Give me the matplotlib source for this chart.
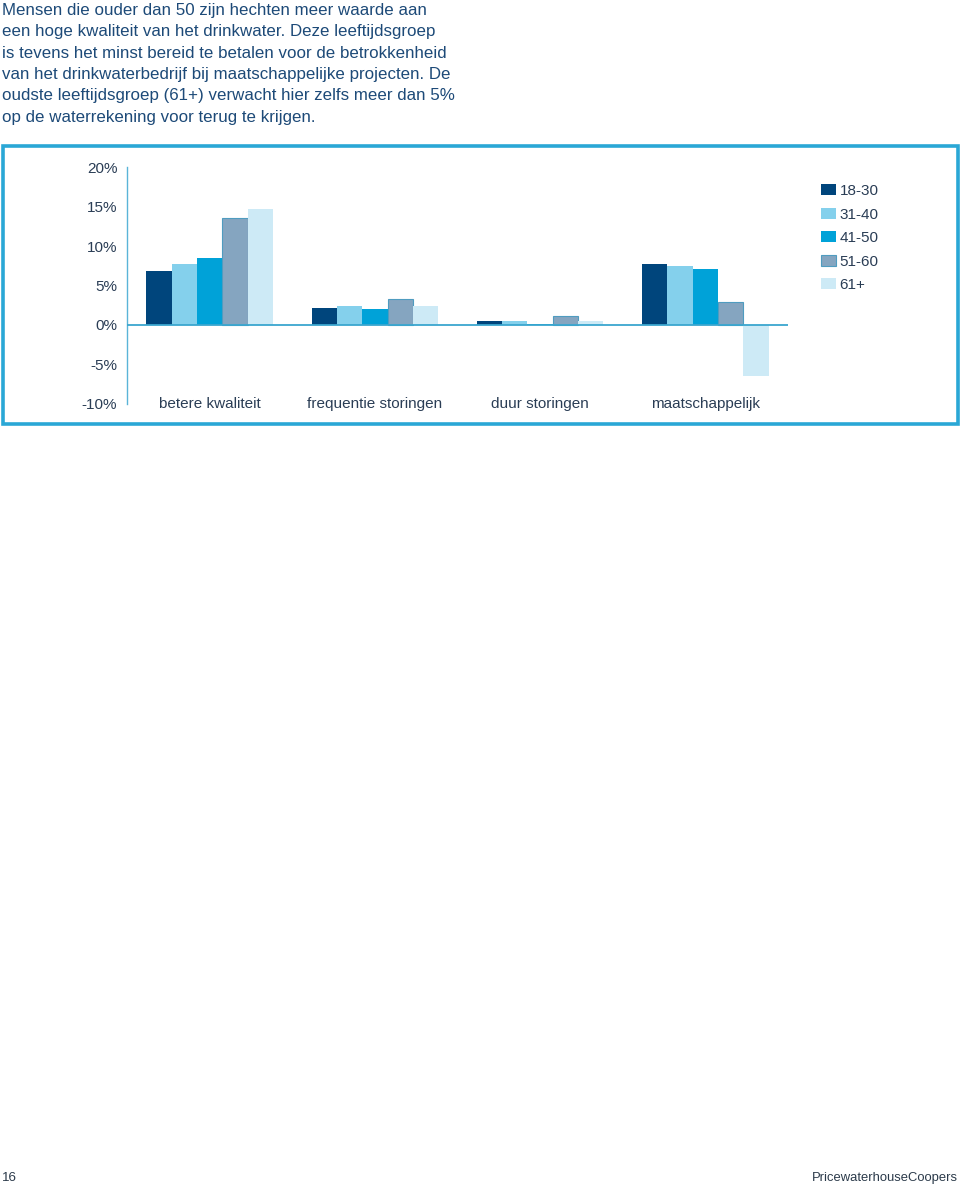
import matplotlib
matplotlib.use("Agg")
import matplotlib.pyplot as plt
import numpy as np
from matplotlib.patches import Rectangle

plt.rcParams['font.family'] = ['Liberation Sans', 'DejaVu Sans']

categories = ["betere kwaliteit", "frequentie storingen", "duur storingen", "maatschappelijk"]
series_names = ["18-30", "31-40", "41-50", "51-60", "61+"]
values = {
    "18-30": [6.9, 2.2, 0.45, 7.7],
    "31-40": [7.7, 2.4, 0.45, 7.45],
    "41-50": [8.45, 2.0, 0.1, 7.1],
    "51-60": [13.6, 3.3, 1.1, 2.9],
    "61+":   [14.7, 2.4, 0.45, -6.5],
}
colors = ["#00457c", "#84d0ec", "#00a2d8", "#85a5c0", "#cdeaf6"]
yticks = [-10, -5, 0, 5, 10, 15, 20]
ytick_labels = ["-10%", "-5%", "0%", "5%", "10%", "15%", "20%"]

body = ("Mensen die ouder dan 50 zijn hechten meer waarde aan\n"
        "een hoge kwaliteit van het drinkwater. Deze leeftijdsgroep\n"
        "is tevens het minst bereid te betalen voor de betrokkenheid\n"
        "van het drinkwaterbedrijf bij maatschappelijke projecten. De\n"
        "oudste leeftijdsgroep (61+) verwacht hier zelfs meer dan 5%\n"
        "op de waterrekening voor terug te krijgen.")

W, H = 960, 1191
fig = plt.figure(figsize=(W / 100, H / 100), dpi=100)
text_col = "#1d4a78"
chart_txt = "#2a3d55"
frame_col = "#2aa7d6"

# body text
fig.text(2 / W, 1 - 3 / H, body, ha="left", va="top", fontsize=12.15,
         color=text_col, linespacing=1.53)

# frame
fig.patches.append(Rectangle((2.5 / W, 1 - 424 / H), 955 / W, 278 / H,
                             transform=fig.transFigure, fill=False,
                             edgecolor=frame_col, linewidth=2.6))

# axes
ax_l, ax_r = 127, 788
ax_t, ax_b = 167.5, 403.5
ax = fig.add_axes([ax_l / W, 1 - ax_b / H, (ax_r - ax_l) / W, (ax_b - ax_t) / H])
ax.set_xlim(-0.5, 3.5)
ax.set_ylim(-10, 20)

x = np.arange(len(categories))
bw = 0.153
for i, name in enumerate(series_names):
    off = (i - 2) * bw
    ec = "#4f9cc0" if name == "51-60" else "none"
    ax.bar(x + off, values[name], width=bw, color=colors[i], edgecolor=ec,
           linewidth=0.8 if name == "51-60" else 0, label=name, zorder=2)

ax.axhline(0, color="#3aa6cf", linewidth=1.3, zorder=3)
for s in ["top", "right", "bottom"]:
    ax.spines[s].set_visible(False)
ax.spines["left"].set_color("#5ab4d8")
ax.spines["left"].set_linewidth(1.0)
ax.set_yticks(yticks)
ax.set_yticklabels(ytick_labels, fontsize=11, color=chart_txt)
ax.tick_params(axis="y", length=0, pad=7)
ax.set_xticks([])

for i, c in enumerate(categories):
    ax.text(i, -10, c, ha="center", va="center", fontsize=11, color=chart_txt)

leg = fig.legend(loc="upper left", bbox_to_anchor=(815 / W, 1 - 178 / H),
                 frameon=False, fontsize=11, handlelength=1.0, handleheight=0.7,
                 handletextpad=0.2, labelspacing=0.62, borderaxespad=0)
for t in leg.get_texts():
    t.set_color(chart_txt)

# footer
fig.text(2 / W, 1 - 1178 / H, "16", ha="left", va="center", fontsize=9.6, color="#2b3a4a")
fig.text(958 / W, 1 - 1178 / H, "PricewaterhouseCoopers", ha="right", va="center",
         fontsize=9.4, color="#2b3a4a")

fig.savefig("out.png", dpi=100, facecolor="white")
